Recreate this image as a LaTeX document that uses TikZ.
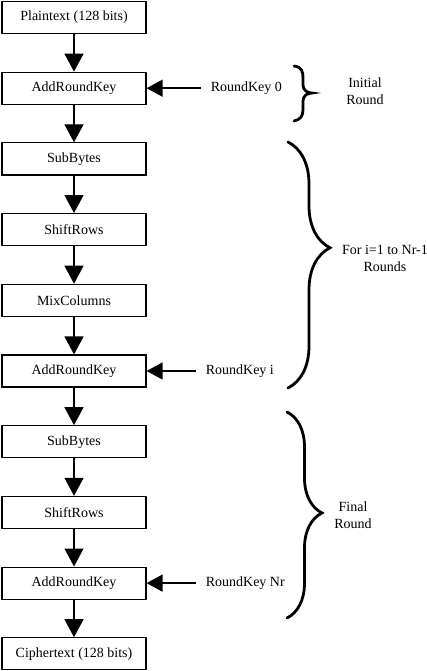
\documentclass[tikz,border=0pt]{standalone}
\usepackage{fontspec}
\setmainfont{Liberation Serif}
\usetikzlibrary{positioning,arrows.meta,decorations.pathreplacing}

\begin{document}
\begin{tikzpicture}[x=1pt,y=1pt,
	font=\fontsize{14}{17}\selectfont,
	node distance=37.5pt,
	stage/.style={draw,line width=1.2pt,minimum width=144pt,minimum height=32pt,inner sep=0pt},
	keytext/.style={inner xsep=10pt,inner ysep=0pt},
	flow/.style={line width=1.4pt,-{Triangle[length=18pt,width=19pt]}},
	keyflow/.style={line width=1.4pt,-{Triangle[length=16pt,width=17pt]}},
	bracket/.style={line width=2.8pt,line cap=round},
	curly/.style={bracket,decorate,decoration={brace,amplitude=#1}},
	roundtext/.style={align=center,inner sep=0pt}]
	\useasboundingbox (0,0) rectangle (427,-671);
	% main chain
	\node[stage] (plain) at (74,-17.5) {Plaintext (128 bits)};
	\node[stage,below=of plain] (ark0) {AddRoundKey};
	\node[stage,below=of ark0] (sub1) {SubBytes};
	\node[stage,below=of sub1] (shift1) {ShiftRows};
	\node[stage,below=of shift1] (mix1) {MixColumns};
	\node[stage,below=of mix1] (ark1) {AddRoundKey};
	\node[stage,below=of ark1] (sub2) {SubBytes};
	\node[stage,below=of sub2] (shift2) {ShiftRows};
	\node[stage,below=of shift2] (ark2) {AddRoundKey};
	\node[stage,below=of ark2] (cipher) {Ciphertext (128 bits)};
	\foreach \a/\b in {plain/ark0,ark0/sub1,sub1/shift1,shift1/mix1,mix1/ark1,
		ark1/sub2,sub2/shift2,shift2/ark2,ark2/cipher}
		\draw[flow] (\a) -- (\b);
	% round keys
	\node[keytext,right=54pt of ark0,anchor=west] (rk0) {RoundKey 0};
	\node[keytext,right=49pt of ark1,anchor=west] (rk1) {RoundKey i};
	\node[keytext,right=49pt of ark2,anchor=west] (rk2) {RoundKey Nr};
	\draw[keyflow] (rk0) -- (ark0);
	\draw[keyflow] (rk1) -- (ark1);
	\draw[keyflow] (rk2) -- (ark2);
	% braces
	\draw[bracket] (294,-66) .. controls (302,-67) and (303,-72) .. (303,-78)
		-- (303,-85) .. controls (303,-90) and (307,-93) .. (312,-93)
		.. controls (307,-93) and (303,-96) .. (303,-101)
		-- (303,-110) .. controls (303,-116) and (300,-120) .. (294,-121);
	\draw[curly=42pt,decoration={aspect=0.43}] (288,-142) -- (288,-388);
	\draw[curly=35pt,decoration={aspect=0.49}] (287,-412) -- (287,-618);
	\node[roundtext] (initial) at (365,-91) {Initial\\Round};
	\node[roundtext] (middle) at (385,-258) {For i=1 to Nr-1\\Rounds};
	\node[roundtext] (final) at (353,-515) {Final\\Round};
\end{tikzpicture}
\end{document}
